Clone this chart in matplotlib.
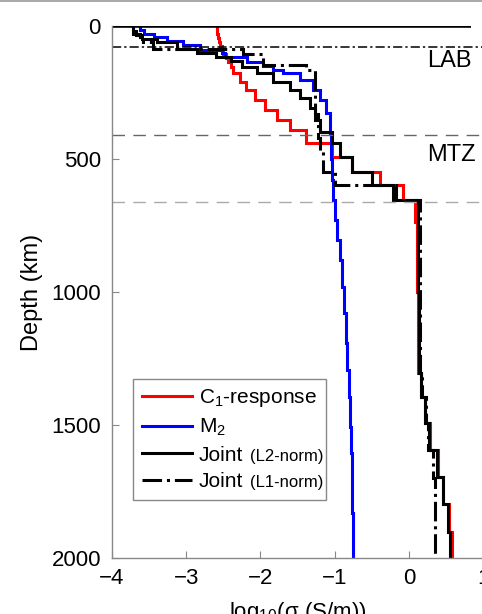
import numpy as np
import matplotlib
matplotlib.use("Agg")
import matplotlib.pyplot as plt
from matplotlib.lines import Line2D

plt.rcParams['font.family'] = ['Liberation Sans', 'DejaVu Sans']
plt.rcParams['mathtext.fontset'] = 'custom'
plt.rcParams['mathtext.rm'] = 'Liberation Sans'
plt.rcParams['mathtext.it'] = 'Liberation Sans:italic'
plt.rcParams['mathtext.default'] = 'regular'

# layer edges (km) and log10 conductivity of each layer
red_edges = [0, 15, 30, 45, 60, 75, 90, 105, 120, 135, 153, 178, 209, 241, 279, 316, 353,
             391, 441, 491, 548, 598, 654, 736, 1000, 1306, 1394, 1494, 1594, 1695, 1797, 1901, 2000]
red_vals = [-2.59, -2.58, -2.57, -2.555, -2.54, -2.52, -2.50, -2.47, -2.44, -2.40, -2.37, -2.28,
            -2.20, -2.07, -1.94, -1.77, -1.60, -1.38, -1.04, -0.77, -0.39, -0.074, 0.08, 0.105,
            0.125, 0.165, 0.22, 0.285, 0.39, 0.465, 0.54, 0.578]

blue_edges = [0, 15, 30, 40, 56, 72, 90, 103, 115, 134, 150, 165, 178, 203, 241, 278, 328, 403,
              500, 580, 654, 730, 805, 880, 980, 1080, 1193, 1294, 1394, 1507, 1606, 1732, 1832, 2000]
blue_vals = [-3.62, -3.57, -3.44, -3.26, -3.04, -2.81, -2.52, -2.48, -2.185, -1.96, -1.83, -1.70,
             -1.47, -1.29, -1.20, -1.11, -1.06, -1.045, -1.04, -1.017, -0.995, -0.963, -0.927,
             -0.896, -0.869, -0.846, -0.828, -0.81, -0.792, -0.779, -0.765, -0.76, -0.757]

l2_edges = [0, 20, 35, 48, 60, 85, 100, 115, 130, 153, 178, 209, 241, 272, 310, 353, 397, 441,
            491, 548, 598, 654, 1000, 1306, 1394, 1494, 1594, 1695, 1797, 1901, 2000]
l2_vals = [-3.72, -3.68, -3.60, -3.40, -3.13, -2.86, -2.60, -2.40, -2.25, -2.05, -1.83, -1.60,
           -1.47, -1.33, -1.26, -1.20, -1.03, -0.93, -0.77, -0.50, -0.21, 0.13, 0.14, 0.17,
           0.22, 0.276, 0.376, 0.457, 0.532, 0.555]

l1_edges = [0, 30, 60, 88, 105, 147, 165, 330, 420, 470, 548, 598, 654, 1306, 1394, 1494, 1594, 1700, 2000]
l1_vals = [-3.72, -3.62, -3.45, -2.23, -1.96, -1.38, -1.26, -1.22, -1.20, -1.15, -1.00, -0.17,
           0.145, 0.175, 0.225, 0.263, 0.32, 0.35]

surface_x = [-4.0, 0.84]
surface_d = [0, 0]
lab_depth = 80
mtz_depths = [410, 660]

fig = plt.figure(figsize=(4.82, 6.14), dpi=100)
ax = fig.add_axes([0.2324, 0.0912, 0.7697, 0.8664])

lw = 2.2
ax.stairs(red_vals, red_edges, orientation='horizontal', baseline=None, color='#ff0000', lw=lw)
ax.stairs(blue_vals, blue_edges, orientation='horizontal', baseline=None, color='#0000ff', lw=lw)
ax.stairs(l2_vals, l2_edges, orientation='horizontal', baseline=None, color='k', lw=lw)
ax.stairs(l1_vals, l1_edges, orientation='horizontal', baseline=None, color='k', lw=lw, linestyle='-.')
ax.plot(surface_x, surface_d, color='k', lw=2.6, solid_capstyle='butt')

ax.axhline(lab_depth, color='k', lw=1.1, linestyle=(0, (6, 2, 1.5, 2)))
ax.axhline(mtz_depths[0], color='#666666', lw=1.0, linestyle=(0, (9, 6)))
ax.axhline(mtz_depths[1], color='#aaaaaa', lw=1.0, linestyle=(0, (9, 6)))

ax.text(0.245, 133, 'LAB', fontsize=17, va='center', ha='left')
ax.text(0.245, 485, 'MTZ', fontsize=17, va='center', ha='left')

ax.set_xlim(-4, 1)
ax.set_ylim(2000, 0)
ax.set_xticks([-4, -3, -2, -1, 0, 1])
ax.set_yticks([0, 500, 1000, 1500, 2000])
ax.tick_params(direction='in', length=5, color='#888888', labelsize=16)
ax.tick_params(axis='x', pad=7)
ax.tick_params(axis='y', pad=8)
for s in ['top', 'right']:
    ax.spines[s].set_visible(False)
for s in ['left', 'bottom']:
    ax.spines[s].set_color('#888888')
    ax.spines[s].set_linewidth(1.0)

ax.set_ylabel('Depth (km)', fontsize=17, labelpad=6)
ax.set_xlabel(r'log$_{10}$($\sigma$ (S/m))', fontsize=16, labelpad=8)

handles = [Line2D([], [], color='#ff0000', lw=lw),
           Line2D([], [], color='#0000ff', lw=lw),
           Line2D([], [], color='k', lw=lw),
           Line2D([], [], color='k', lw=lw, linestyle='-.')]
labels = ['C$_1$-response', 'M$_2$', 'Joint', 'Joint']
leg = ax.legend(handles, labels, loc='lower left', bbox_to_anchor=(0.0566, 0.109),
                borderaxespad=0, fontsize=15, fancybox=False, edgecolor='#888888',
                framealpha=1, handlelength=2.4, handletextpad=0.35, labelspacing=0.36,
                borderpad=0.42)
leg.get_frame().set_linewidth(1.0)

# smaller norm tags after the "Joint" entries
fig.canvas.draw()
inv = fig.transFigure.inverted()
for t, small in zip(leg.get_texts()[2:], ['(L2-norm)', '(L1-norm)']):
    bb = t.get_window_extent()
    x, y = inv.transform((bb.x0 + 51, bb.y0 + 4))
    fig.text(x, y, small, fontsize=12, ha='left', va='baseline')

fig.add_artist(Line2D([0, 1], [0.998, 0.998], transform=fig.transFigure, color='#999999', lw=1.2))

fig.savefig('out.png', dpi=100)
